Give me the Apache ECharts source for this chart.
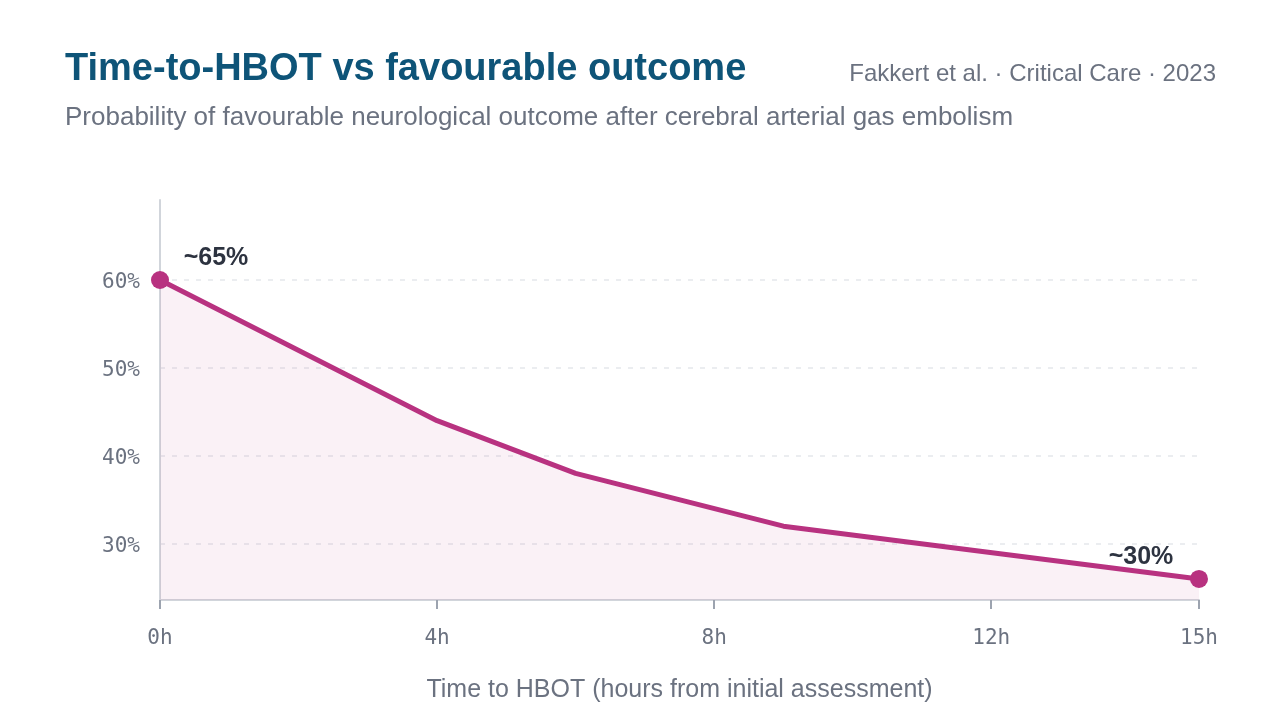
<!DOCTYPE html>
<html>
<head>
<meta charset="utf-8">
<script src="https://cdn.jsdelivr.net/npm/echarts@6/dist/echarts.min.js"></script>
<style>
  html, body { margin: 0; padding: 0; background: #fff; }
  #chart { width: 1280px; height: 720px; }
</style>
</head>
<body>
<div id="chart"></div>
<script>
// data
const hours = [0, 4, 6, 9, 15];
const outcome = [60, 44, 38, 32, 26];
const annotations = ["~65%", "", "", "", "~30%"];
const xTicks = [0, 4, 8, 12, 15];
const yTicks = [30, 40, 50, 60];

const pink = "#b83280";
const grey = "#6b7280";
const sans = "Liberation Sans, Arial, sans-serif";
const mono = "DejaVu Sans Mono, monospace";

const chart = echarts.init(document.getElementById("chart"));

const seriesData = hours.map((h, i) => {
  const last = i === hours.length - 1;
  const marked = annotations[i] !== "";
  return {
    value: [h, outcome[i]],
    symbolSize: marked ? 18 : 0,
    label: {
      show: marked,
      formatter: annotations[i],
      position: "top",
      offset: last ? [-58, 5] : [56, 5],
      color: "#2d3340",
      fontSize: 25,
      fontWeight: "bold",
      fontFamily: sans,
    },
  };
});

const options = {
  backgroundColor: "#fff",
  animation: false,
  title: [
    {
      text: "Time-to-HBOT vs favourable outcome",
      left: 60,
      top: 46,
      textStyle: { color: "#0e5478", fontSize: 38, fontWeight: "bold", fontFamily: sans },
    },
    {
      text: "Probability of favourable neurological outcome after cerebral arterial gas embolism",
      left: 60,
      top: 100,
      textStyle: { color: grey, fontSize: 26, fontWeight: "normal", fontFamily: sans },
    },
    {
      text: "Fakkert et al. · Critical Care · 2023",
      right: 59,
      top: 57,
      textStyle: { color: grey, fontSize: 24, fontWeight: "normal", fontFamily: sans },
    },
  ],
  grid: { left: 160, right: 81, top: 200, bottom: 120 },
  xAxis: {
    type: "value",
    min: 0,
    max: 15,
    name: "Time to HBOT (hours from initial assessment)",
    nameLocation: "middle",
    nameGap: 78,
    nameTextStyle: { color: grey, fontSize: 25, fontFamily: sans },
    axisLine: { show: true, lineStyle: { color: "#d1d5db", width: 2 } },
    axisTick: {
      show: true,
      customValues: xTicks,
      length: 9,
      lineStyle: { color: "#9ca3af", width: 2 },
    },
    axisLabel: {
      customValues: xTicks,
      formatter: "{value}h",
      margin: 28,
      color: grey,
      fontSize: 21,
      fontFamily: mono,
    },
    splitLine: { show: false },
  },
  yAxis: {
    type: "value",
    min: 23.6,
    max: 69.1,
    axisLine: { show: true, lineStyle: { color: "#d1d5db", width: 2 } },
    axisTick: { show: false, customValues: yTicks },
    axisLabel: {
      customValues: yTicks,
      formatter: (v) => "{t|" + v + "%}",
      margin: 20,
      rich: {
        t: {
          padding: [6, 0, 0, 0],
          color: grey,
          fontSize: 21,
          fontFamily: mono,
        },
      },
    },
    splitLine: {
      show: true,
      lineStyle: { color: "#e5e7eb", type: [5, 7], width: 1.5 },
    },
  },
  series: [
    {
      type: "line",
      data: seriesData,
      symbol: "circle",
      showAllSymbol: true,
      lineStyle: { color: pink, width: 5 },
      itemStyle: { color: pink },
      areaStyle: { color: "rgba(184,50,128,0.1)" },
      z: 5,
    },
  ],
};

chart.setOption(options);
</script>
</body>
</html>
